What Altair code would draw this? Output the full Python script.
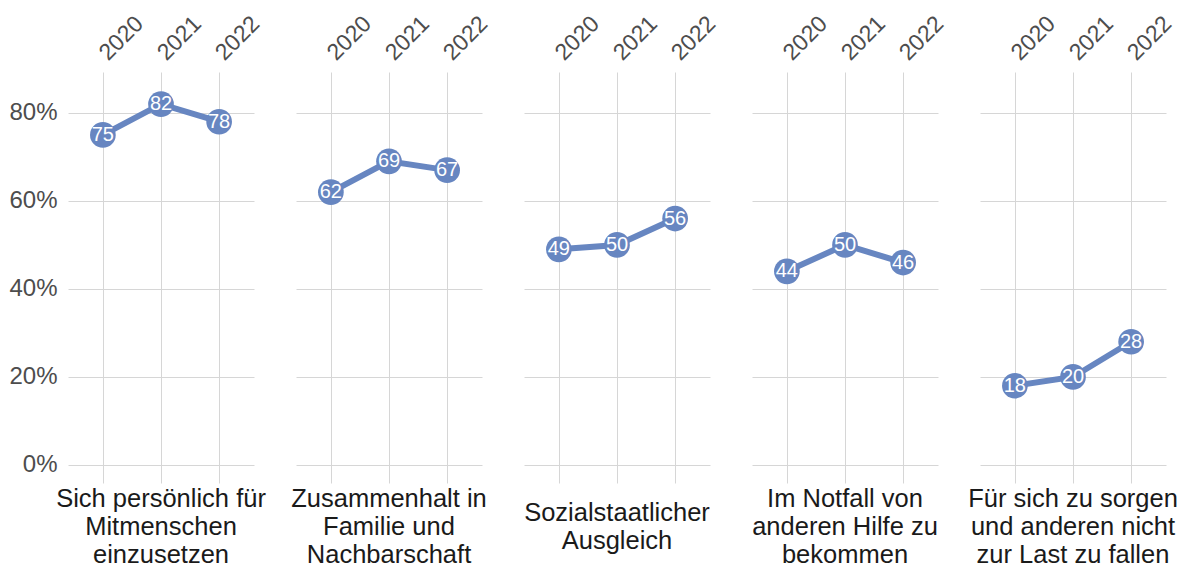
import altair as alt
import pandas as pd

categories = [
    "Sich persönlich für|Mitmenschen|einzusetzen",
    "Zusammenhalt in|Familie und|Nachbarschaft",
    "Sozialstaatlicher|Ausgleich",
    "Im Notfall von|anderen Hilfe zu|bekommen",
    "Für sich zu sorgen|und anderen nicht|zur Last zu fallen",
]
years = ["2020", "2021", "2022"]
values = [
    [75, 82, 78],
    [62, 69, 67],
    [49, 50, 56],
    [44, 50, 46],
    [18, 20, 28],
]

rows = []
for cat, vals in zip(categories, values):
    for yr, v in zip(years, vals):
        rows.append({"cat": cat, "year": yr, "value": v})
df = pd.DataFrame(rows)

COLOR = "#6786c1"
FONT = "Liberation Sans"
W, H = 186, 411
LH = 28

x = alt.X("year:O", scale=alt.Scale(type="point", padding=0.6),
          axis=alt.Axis(orient="top", labelAngle=-45, labelAlign="left", labelBaseline="middle",
                        labelFontSize=23, labelColor="#4d4d4d", labelFont=FONT, labelPadding=16,
                        domain=False, ticks=False, grid=True, gridColor="#d6d6d6", gridWidth=1,
                        title=None))
y = alt.Y("value:Q", scale=alt.Scale(domain=[-4.1, 89.3], nice=False, zero=False),
          axis=alt.Axis(values=[0, 20, 40, 60, 80], labelExpr="datum.value + '%'",
                        labelFontSize=24, labelColor="#4d4d4d", labelFont=FONT, labelPadding=11,
                        domain=False, ticks=False, grid=True, gridColor="#d6d6d6", gridWidth=1,
                        title=None))

base = alt.Chart(df).encode(x=x, y=y)
line = base.mark_line(color=COLOR, strokeWidth=6)
pts = base.mark_circle(color=COLOR, size=660, opacity=1)
txt = base.mark_text(color="white", fontSize=20, font=FONT, baseline="middle").encode(
    text=alt.Text("value:Q", format="d"))

head = (
    alt.Chart(df)
    .transform_filter("datum.year == '2021'")
    .transform_calculate(lines="split(datum.cat, '|')")
    .transform_flatten(["lines"], as_=["line"])
    .transform_window(idx="row_number()", groupby=["cat"])
    .transform_joinaggregate(n="count()", groupby=["cat"])
    .transform_calculate(ypix=f"{H + 43.5} + (datum.idx - 1 - (datum.n - 1) / 2) * {LH}")
    .mark_text(fontSize=25.5, font=FONT, color="#1a1a1a", baseline="middle", align="center")
    .encode(x=alt.value(W / 2), y=alt.Y("ypix:Q", scale=None, axis=None), text="line:N")
)

layer = alt.layer(line, pts, txt, head).properties(width=W, height=H)

chart = layer.facet(
    column=alt.Column("cat:N", sort=categories, header=None)
).properties(spacing=42, bounds="flush", padding={"left": 0, "top": 4, "right": 0, "bottom": 0}
).configure_view(stroke=None)

chart.save("out.html", embed_options={"renderer": "svg", "actions": False})
